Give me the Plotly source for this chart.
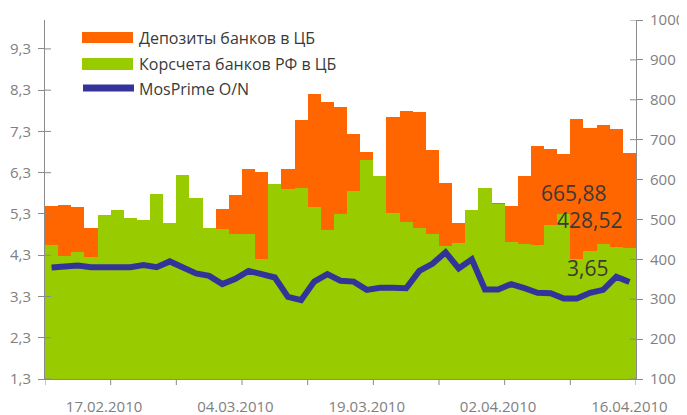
import plotly.graph_objects as go

# ---------------- data ----------------
dates = [
    "11.02.2010", "12.02.2010", "15.02.2010", "16.02.2010", "17.02.2010",
    "18.02.2010", "19.02.2010", "24.02.2010", "25.02.2010", "26.02.2010",
    "27.02.2010", "01.03.2010", "02.03.2010", "03.03.2010", "04.03.2010",
    "05.03.2010", "09.03.2010", "10.03.2010", "11.03.2010", "12.03.2010",
    "15.03.2010", "16.03.2010", "17.03.2010", "18.03.2010", "19.03.2010",
    "22.03.2010", "23.03.2010", "24.03.2010", "25.03.2010", "26.03.2010",
    "29.03.2010", "30.03.2010", "31.03.2010", "01.04.2010", "02.04.2010",
    "05.04.2010", "06.04.2010", "07.04.2010", "08.04.2010", "09.04.2010",
    "12.04.2010", "13.04.2010", "14.04.2010", "15.04.2010", "16.04.2010",
]

deposits = [
    534, 536, 531, 479, 470, 455, 440, 430, 470, 460,
    480, 470, 450, 526, 561, 626, 619, 560, 626, 749,
    815, 794, 782, 715, 669, 590, 757, 772, 769, 674,
    591, 491, 500, 540, 541, 534, 609, 684, 677, 664,
    752, 729, 737, 727, 665.88,
]

korschet = [
    436, 408, 418, 406, 511, 524, 504, 499, 564, 492,
    611, 554, 479, 476, 464, 463, 401, 589, 576, 579,
    531, 474, 514, 571, 649, 609, 516, 493, 479, 463,
    433, 441, 524, 579, 539, 443, 438, 436, 486, 514,
    400, 421, 438, 431, 428.52,
]

mosprime = [
    4.00, 4.02, 4.05, 4.01, 4.01, 4.01, 4.01, 4.06, 4.01, 4.15,
    4.00, 3.86, 3.80, 3.60, 3.73, 3.92, 3.84, 3.76, 3.29, 3.21,
    3.66, 3.84, 3.68, 3.66, 3.46, 3.51, 3.51, 3.50, 3.92, 4.09,
    4.37, 3.98, 4.20, 3.47, 3.47, 3.60, 3.50, 3.39, 3.38, 3.25,
    3.25, 3.39, 3.46, 3.78, 3.65,
]

series_names = ["Депозиты банков в ЦБ", "Корсчета банков РФ в ЦБ", "MosPrime O/N"]
label_dates = ["17.02.2010", "04.03.2010", "19.03.2010", "02.04.2010", "16.04.2010"]
left_ticks = [1.3, 2.3, 3.3, 4.3, 5.3, 6.3, 7.3, 8.3, 9.3]
right_ticks = [100, 200, 300, 400, 500, 600, 700, 800, 900, 1000]
left_range = [1.3, 10.0]
right_range = [100, 1000]

# ---------------- style ----------------
ORANGE = "#FF6600"
GREEN = "#99CC00"
BLUE = "#333399"
AXIS = "#8a8a8a"
TICKFONT = dict(family="Open Sans", size=15, color="#808080")
TEXTCOL = "#3a3a3a"

# the page body has an 8px margin; size the figure so the plot lands where the reference has it
OFF = 8
W, H = 687 - OFF, 415 - OFF
PL, PR, PT, PB = 45, 636, 20, 379          # plot area in window pixels
ML, MT = PL - OFF, PT - OFF
MR, MB = 687 - PR, 415 - PB
PW, PH = PR - PL, PB - PT


def px_x(p):
    return (p - PL) / PW


def px_y(p):
    return (PB - p) / PH


def comma(v, nd=2):
    return f"{v:.{nd}f}".replace(".", ",")


fig = go.Figure()
fig.add_bar(x=dates, y=deposits, name=series_names[0], marker=dict(color=ORANGE, line=dict(width=0)),
            yaxis="y", showlegend=False)
fig.add_bar(x=dates, y=korschet, name=series_names[1], marker=dict(color=GREEN, line=dict(width=0)),
            yaxis="y", showlegend=False)
fig.add_scatter(x=dates, y=mosprime, name=series_names[2], mode="lines",
                line=dict(color=BLUE, width=6), yaxis="y2", showlegend=False)

shapes = []
# x-axis tick marks between categories, every 5 categories
n = len(dates)
for k in range(0, n + 1, 5):
    shapes.append(dict(type="line", xref="x", yref="paper", x0=k - 0.5, x1=k - 0.5,
                       y0=0, y1=-6 / PH, line=dict(color=AXIS, width=1)))
# inner halves of the crossing y ticks
for t in left_ticks:
    shapes.append(dict(type="line", xref="paper", yref="y2", x0=0, x1=6 / PW, y0=t, y1=t,
                       line=dict(color=AXIS, width=1)))
for t in right_ticks:
    shapes.append(dict(type="line", xref="paper", yref="y", x0=1, x1=1 - 6 / PW, y0=t, y1=t,
                       line=dict(color=AXIS, width=1)))

# custom legend
shapes.append(dict(type="rect", xref="paper", yref="paper", x0=px_x(82), x1=px_x(133),
                   y0=px_y(43), y1=px_y(32), fillcolor=ORANGE, line=dict(width=0)))
shapes.append(dict(type="rect", xref="paper", yref="paper", x0=px_x(82), x1=px_x(133),
                   y0=px_y(70), y1=px_y(58), fillcolor=GREEN, line=dict(width=0)))
shapes.append(dict(type="line", xref="paper", yref="paper", x0=px_x(83), x1=px_x(134),
                   y0=px_y(88), y1=px_y(88), line=dict(color=BLUE, width=7)))

annotations = []
for name, py in zip(series_names, [37.5, 64, 88.5]):
    annotations.append(dict(xref="paper", yref="paper", x=px_x(137), y=px_y(py), text=name,
                            showarrow=False, xanchor="left", yanchor="middle",
                            font=dict(family="Open Sans", size=16, color=TEXTCOL)))

# value labels for the last point
annotations.append(dict(x=dates[-1], y=deposits[-1], xref="x", yref="y", text=comma(deposits[-1]),
                        showarrow=False, xshift=-56, yshift=-40,
                        font=dict(family="Open Sans", size=21, color=TEXTCOL)))
annotations.append(dict(x=dates[-1], y=korschet[-1], xref="x", yref="y", text=comma(korschet[-1]),
                        showarrow=False, xshift=-40, yshift=28,
                        font=dict(family="Open Sans", size=21, color=TEXTCOL)))
annotations.append(dict(x=dates[-1], y=mosprime[-1], xref="x", yref="y2", text=comma(mosprime[-1]),
                        showarrow=False, xshift=-42, yshift=14,
                        font=dict(family="Open Sans", size=21, color=TEXTCOL)))

fig.update_layout(
    width=W, height=H,
    margin=dict(l=ML, r=MR, t=MT, b=MB, pad=0, autoexpand=False),
    paper_bgcolor="white", plot_bgcolor="white",
    barmode="overlay", bargap=0,
    showlegend=False,
    xaxis=dict(type="category", range=[-0.5, n - 0.5], tickvals=label_dates, ticktext=label_dates,
               ticks="", showline=True, linecolor=AXIS, linewidth=1, showgrid=False,
               zeroline=False, tickfont=TICKFONT, ticklabelstandoff=14, automargin=False),
    yaxis=dict(side="right", range=right_range, tickvals=right_ticks,
               ticktext=[str(t) for t in right_ticks], ticks="outside", ticklen=6,
               tickcolor=AXIS, showline=True, linecolor=AXIS, linewidth=1, showgrid=False,
               zeroline=False, tickfont=TICKFONT, ticklabelstandoff=4, automargin=False),
    yaxis2=dict(side="left", overlaying="y", range=left_range, tickvals=left_ticks,
                ticktext=[comma(t, 1) for t in left_ticks], ticks="outside", ticklen=6,
                tickcolor=AXIS, showline=True, linecolor=AXIS, linewidth=1, showgrid=False,
                zeroline=False, tickfont=TICKFONT, ticklabelstandoff=4, automargin=False),
    shapes=shapes,
    annotations=annotations,
)

fig.write_html("out.html")
